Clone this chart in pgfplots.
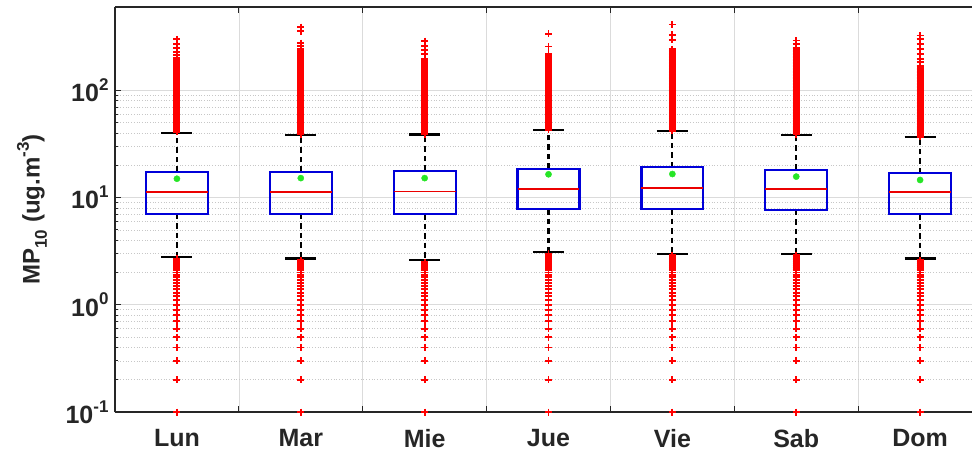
\documentclass[border=0pt]{standalone}
\usepackage{fontspec}
\setmainfont{Liberation Sans}
\usepackage{pgfplots}
\pgfplotsset{compat=1.18}

\definecolor{boxblue}{rgb}{0,0,0.85}
\definecolor{medred}{rgb}{0.92,0,0}
\definecolor{outred}{rgb}{1,0,0}
\definecolor{meangreen}{rgb}{0.15,0.9,0.15}
\definecolor{txt}{rgb}{0.15,0.15,0.15}

\newcommand{\sups}[1]{\raisebox{0.45em}{\fontsize{17}{17}\selectfont #1}}
\newcommand{\subs}[1]{\raisebox{-0.3em}{\fontsize{17}{17}\selectfont #1}}

% box: left, right, Q1, median, Q3
\newcommand{\drawbox}[5]{%
  \addplot[draw=boxblue, line width=2.2pt, line cap=rect, line join=miter]
    coordinates {(#1,#3) (#2,#3) (#2,#5) (#1,#5) (#1,#3)};
  \addplot[draw=medred, line width=1.8pt] coordinates {(#1,#4) (#2,#4)};
}
% whiskers: centre, cap left, cap right, lower whisker, Q1, Q3, upper whisker
\newcommand{\drawwhisk}[7]{%
  \addplot[draw=black, line width=2.2pt, dash pattern=on 5.5pt off 4pt]
    coordinates {(#1,#5) (#1,#4)};
  \addplot[draw=black, line width=2.2pt, dash pattern=on 5.5pt off 4pt]
    coordinates {(#1,#6) (#1,#7)};
  \addplot[draw=black, line width=2.2pt] coordinates {(#2,#4) (#3,#4)};
  \addplot[draw=black, line width=2.2pt] coordinates {(#2,#7) (#3,#7)};
}

\pgfplotsset{
  outl/.style={only marks, mark=+, mark size=3.5pt, color=outred,
    mark options={line width=1.9pt}},
}

\begin{document}
\begin{tikzpicture}
\begin{axis}[
  at={(0pt,0pt)}, anchor=south west,
  scale only axis, width=857pt, height=405pt,
  xmin=0.5, xmax=7.419,
  ymode=log, ymin=0.1, ymax=600,
  clip=false,
  axis y line*=left,
  xtick={1.5,2.5,3.5,4.5,5.5,6.5}, xticklabels={},
  extra x ticks={1,2,3,4,5,6,7},
  extra x tick labels={Lun,Mar,Mie,Jue,Vie,Sab,Dom},
  extra x tick style={major tick length=0pt, grid=none},
  ytick={0.1,1,10,100},
  yticklabels={10\sups{-1},10\sups{0},10\sups{1},10\sups{2}},
  tick align=inside,
  major tick length=6pt, minor tick length=3.5pt,
  tick style={draw=txt, line width=0.8pt},
  axis line style={draw=txt, line width=1.1pt, -},
  grid=both,
  major grid style={draw=black!14, line width=0.7pt},
  minor grid style={draw=black!22, line width=0.7pt, dotted},
  ticklabel style={font=\fontsize{25}{29}\selectfont\bfseries, text=txt},
  xticklabel style={yshift=-14pt},
  yticklabel style={xshift=-3pt},
  ylabel={MP\subs{10} (ug.m\sups{-3})},
  ylabel style={font=\fontsize{24}{28}\selectfont\bfseries, text=txt,
    at={(axis description cs:-0.0968,0.5)}, anchor=center},
]

% whiskers and caps
\drawwhisk{1}{0.875}{1.125}{2.8}{7.05}{17.4}{40.0}
\drawwhisk{2}{1.875}{2.125}{2.7}{7.07}{17.4}{38.6}
\drawwhisk{3}{2.875}{3.125}{2.6}{7.03}{17.85}{38.8}
\drawwhisk{4}{3.875}{4.125}{3.1}{7.8}{18.5}{42.4}
\drawwhisk{5}{4.875}{5.125}{3.0}{7.8}{19.3}{41.5}
\drawwhisk{6}{5.875}{6.125}{3.0}{7.68}{18.1}{38.4}
\drawwhisk{7}{6.875}{7.125}{2.7}{7.03}{16.9}{36.7}

% boxes and medians
\drawbox{0.75}{1.25}{7.05}{11.2}{17.4}
\drawbox{1.75}{2.25}{7.07}{11.2}{17.4}
\drawbox{2.75}{3.25}{7.03}{11.4}{17.85}
\drawbox{3.75}{4.25}{7.8}{12.1}{18.5}
\drawbox{4.75}{5.25}{7.8}{12.3}{19.3}
\drawbox{5.75}{6.25}{7.68}{12.0}{18.1}
\drawbox{6.75}{7.25}{7.03}{11.2}{16.9}

% means
\addplot[only marks, mark=*, mark size=3.1pt, color=meangreen]
  coordinates {(1,15.0) (2,15.2) (3,15.2) (4,16.5) (5,16.6) (6,15.7) (7,14.6)};

% low outliers
\addplot[outl] table[x expr=1, y index=0, header=false, row sep=\\]
  {0.1\\0.2\\0.3\\0.4\\0.5\\0.6\\0.7\\0.8\\0.9\\1.0\\1.1\\1.2\\1.3\\1.4\\1.5\\1.6\\1.7\\1.8\\1.9\\2.0\\2.1\\2.2\\2.3\\2.4\\2.5\\2.6\\2.7\\};
\addplot[outl] table[x expr=2, y index=0, header=false, row sep=\\]
  {0.1\\0.2\\0.3\\0.4\\0.5\\0.6\\0.7\\0.8\\0.9\\1.0\\1.1\\1.2\\1.3\\1.4\\1.5\\1.6\\1.7\\1.8\\1.9\\2.0\\2.1\\2.2\\2.3\\2.4\\2.5\\2.6\\};
\addplot[outl] table[x expr=3, y index=0, header=false, row sep=\\]
  {0.1\\0.2\\0.3\\0.4\\0.5\\0.6\\0.7\\0.8\\0.9\\1.0\\1.1\\1.2\\1.3\\1.4\\1.5\\1.6\\1.7\\1.8\\1.9\\2.0\\2.1\\2.2\\2.3\\2.4\\2.5\\};
\addplot[outl] table[x expr=4, y index=0, header=false, row sep=\\]
  {0.1\\0.2\\0.3\\0.4\\0.5\\0.6\\0.7\\0.8\\0.9\\1.0\\1.1\\1.2\\1.3\\1.4\\1.5\\1.6\\1.7\\1.8\\1.9\\2.0\\2.1\\2.2\\2.3\\2.4\\2.5\\2.6\\2.7\\2.8\\2.9\\3.0\\};
\addplot[outl] table[x expr=5, y index=0, header=false, row sep=\\]
  {0.1\\0.2\\0.3\\0.4\\0.5\\0.6\\0.7\\0.8\\0.9\\1.0\\1.1\\1.2\\1.3\\1.4\\1.5\\1.6\\1.7\\1.8\\1.9\\2.0\\2.1\\2.2\\2.3\\2.4\\2.5\\2.6\\2.7\\2.8\\2.9\\};
\addplot[outl] table[x expr=6, y index=0, header=false, row sep=\\]
  {0.1\\0.2\\0.3\\0.4\\0.5\\0.6\\0.7\\0.8\\0.9\\1.0\\1.1\\1.2\\1.3\\1.4\\1.5\\1.6\\1.7\\1.8\\1.9\\2.0\\2.1\\2.2\\2.3\\2.4\\2.5\\2.6\\2.7\\2.8\\2.9\\};
\addplot[outl] table[x expr=7, y index=0, header=false, row sep=\\]
  {0.1\\0.2\\0.3\\0.4\\0.5\\0.6\\0.7\\0.8\\0.9\\1.0\\1.1\\1.2\\1.3\\1.4\\1.5\\1.6\\1.7\\1.8\\1.9\\2.0\\2.1\\2.2\\2.3\\2.4\\2.5\\2.6\\};

% high outliers
\addplot[outl] table[x expr=1, y index=0, header=false, row sep=\\]
  {41\\42\\43\\44\\45\\46\\48\\49\\51\\52\\54\\56\\58\\60\\62\\64\\66\\68\\70\\72\\74\\77\\79\\82\\84\\87\\90\\93\\96\\99\\102\\105\\108\\112\\116\\119\\123\\127\\131\\135\\140\\144\\149\\154\\159\\164\\170\\175\\181\\187\\193\\199\\214\\230\\247\\272\\299\\};
\addplot[outl] table[x expr=2, y index=0, header=false, row sep=\\]
  {39\\40\\41\\42\\43\\44\\45\\46\\48\\49\\51\\52\\54\\56\\58\\60\\62\\64\\66\\68\\70\\72\\74\\77\\79\\82\\84\\87\\90\\93\\96\\99\\102\\105\\108\\112\\116\\119\\123\\127\\131\\135\\140\\144\\149\\154\\159\\164\\170\\175\\181\\187\\193\\199\\206\\213\\220\\227\\234\\245\\260\\276\\355\\389\\};
\addplot[outl] table[x expr=3, y index=0, header=false, row sep=\\]
  {39\\40\\41\\42\\43\\44\\45\\46\\48\\49\\51\\52\\54\\56\\58\\60\\62\\64\\66\\68\\70\\72\\74\\77\\79\\82\\84\\87\\90\\93\\96\\99\\102\\105\\108\\112\\116\\119\\123\\127\\131\\135\\140\\144\\149\\154\\159\\164\\170\\175\\181\\187\\193\\197\\219\\236\\258\\288\\};
\addplot[outl] table[x expr=4, y index=0, header=false, row sep=\\]
  {43\\44\\45\\46\\48\\49\\51\\52\\54\\56\\58\\60\\62\\64\\66\\68\\70\\72\\74\\77\\79\\82\\84\\87\\90\\93\\96\\99\\102\\105\\108\\112\\116\\119\\123\\127\\131\\135\\140\\144\\149\\154\\159\\164\\170\\175\\181\\187\\193\\199\\206\\213\\220\\257\\337\\};
\addplot[outl] table[x expr=5, y index=0, header=false, row sep=\\]
  {42\\43\\44\\45\\46\\48\\49\\51\\52\\54\\56\\58\\60\\62\\64\\66\\68\\70\\72\\74\\77\\79\\82\\84\\87\\90\\93\\96\\99\\102\\105\\108\\112\\116\\119\\123\\127\\131\\135\\140\\144\\149\\154\\159\\164\\170\\175\\181\\187\\193\\199\\206\\213\\220\\227\\234\\242\\297\\330\\412\\};
\addplot[outl] table[x expr=6, y index=0, header=false, row sep=\\]
  {39\\40\\41\\42\\43\\44\\45\\46\\48\\49\\51\\52\\54\\56\\58\\60\\62\\64\\66\\68\\70\\72\\74\\77\\79\\82\\84\\87\\90\\93\\96\\99\\102\\105\\108\\112\\116\\119\\123\\127\\131\\135\\140\\144\\149\\154\\159\\164\\170\\175\\181\\187\\193\\199\\206\\213\\220\\227\\234\\242\\250\\270\\292\\};
\addplot[outl] table[x expr=7, y index=0, header=false, row sep=\\]
  {37\\38\\39\\40\\41\\42\\43\\44\\45\\46\\48\\49\\51\\52\\54\\56\\58\\60\\62\\64\\66\\68\\70\\72\\74\\77\\79\\82\\84\\87\\90\\93\\96\\99\\102\\105\\108\\112\\116\\119\\123\\127\\131\\135\\140\\144\\149\\154\\159\\164\\170\\184\\197\\220\\245\\272\\300\\325\\};

\end{axis}
\pgfresetboundingbox
\useasboundingbox (-115pt,-40pt) rectangle (857pt,412pt);
\end{tikzpicture}
\end{document}
